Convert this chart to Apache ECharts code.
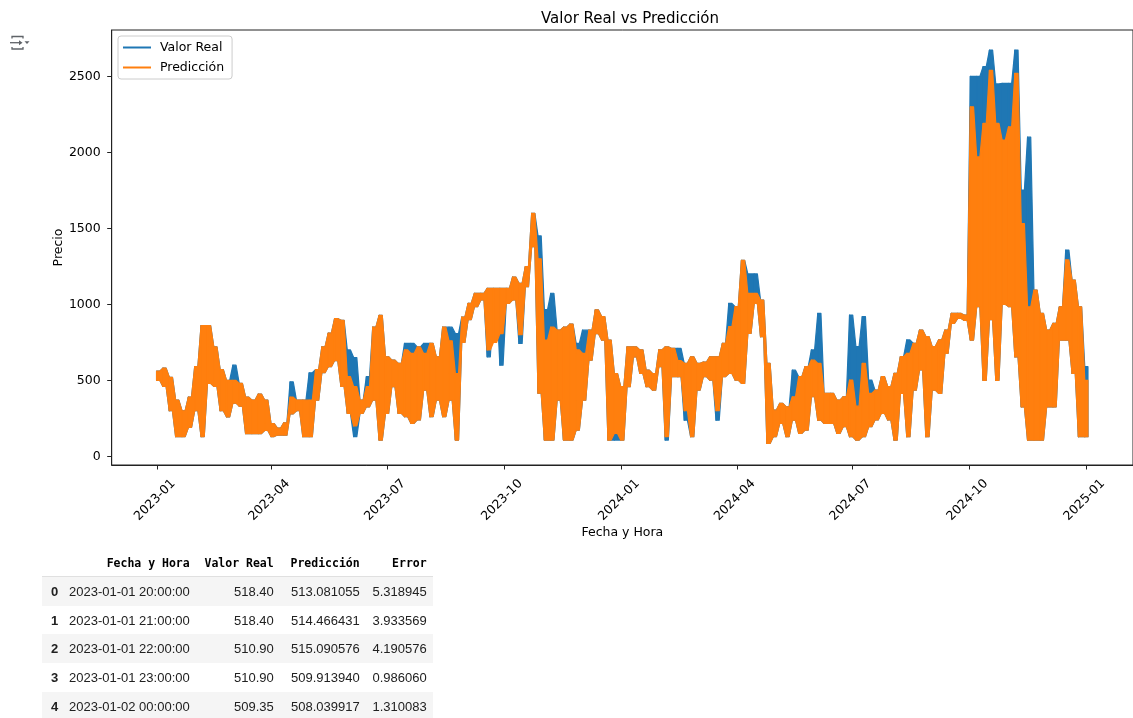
<!DOCTYPE html>
<html>
<head>
<meta charset="utf-8">
<script src="https://cdn.jsdelivr.net/npm/echarts@6/dist/echarts.min.js"></script>
<style>
  html, body { margin: 0; padding: 0; background: #fff; }
  #chart { position: absolute; left: 0; top: 0; width: 1133px; height: 718px; }
  #tbl { position: absolute; left: 42px; top: 549px; border-collapse: collapse; }
  #tbl th, #tbl td { height: 28.7px; padding: 0; white-space: nowrap; }
  #tbl thead th { font-family: "DejaVu Sans Mono", monospace; font-weight: bold; font-size: 11.5px; color: #000; text-align: right; height: 27px; border-bottom: 1px solid #e0e0e0; }
  #tbl td { font-family: "Liberation Sans", Arial, sans-serif; font-size: 13px; color: #212121; text-align: right; }
  #tbl tbody th { font-family: "Liberation Sans", Arial, sans-serif; font-size: 13px; font-weight: bold; color: #212121; text-align: left; }
  #tbl tbody tr:nth-child(odd) { background: #f5f5f5; }
  #tbl .c1 { width: 18px; padding-left: 9px; }
  #tbl .c2 { width: 120px; padding-right: 6px; }
  #tbl .c3 { width: 78px; padding-right: 6px; }
  #tbl .c4 { width: 80px; padding-right: 6px; }
  #tbl .c5 { width: 61px; padding-right: 6px; }
</style>
</head>
<body>
<div id="chart"></div>
<table id="tbl"></table>
<script>
// ---- data ----
const sampleStart = '2023-01-01T20:00:00Z';   // first timestamp
const sampleStepDays = 5;                      // spacing of the sampled envelope

// Valor Real: local high / low within each 5-day window
const realHi = [560,580,520,370,300,390,590,860,860,720,570,500,600,480,390,370,410,370,215,185,220,490,370,370,550,570,720,810,906,895,700,650,370,524,850,927,655,633,611,743,743,720,743,743,655,850,850,808,916,1007,1073,1073,1105,1105,1105,1105,1180,1138,1248,1599,1450,965,1073,830,850,870,743,830,830,963,920,765,545,458,720,720,700,567,545,700,720,710,710,612,655,612,620,655,655,743,1006,985,1290,1200,1200,1028,612,304,348,326,567,524,590,700,940,414,414,370,392,930,722,920,502,436,524,458,546,656,766,744,831,788,722,766,831,941,941,930,2500,2500,2564,2673,2450,2454,2454,2673,1752,2100,1094,940,831,875,984,1357,1160,984,590];
const realLo = [500,460,300,130,130,190,300,130,480,460,300,260,350,330,150,150,150,170,130,140,140,280,300,130,130,370,550,590,630,460,283,130,283,326,370,107,283,458,283,261,217,240,436,261,370,261,370,107,750,900,985,1029,655,1029,600,1007,1029,743,1116,1380,415,107,107,370,107,107,173,370,633,808,765,107,107,107,458,655,545,458,436,590,107,524,524,238,129,436,524,502,238,524,545,502,480,809,1006,787,85,129,216,129,238,151,173,392,238,216,217,151,195,129,107,129,195,239,283,239,107,414,129,436,568,129,436,414,678,875,908,895,765,985,500,900,500,1000,985,655,326,107,107,107,326,326,765,765,545,129,129];

// Predicción: local high / low within each 5-day window
const predHi = [560,580,520,370,300,390,590,860,860,720,570,500,500,480,390,370,410,370,215,185,220,390,370,370,370,570,720,810,906,895,524,458,370,458,850,927,655,633,611,700,677,720,677,743,655,850,760,545,916,1007,1073,1073,1105,1105,1105,1105,1180,1138,1248,1599,1300,765,850,830,850,870,700,677,830,963,920,765,545,458,720,720,700,567,545,700,720,710,630,612,655,612,620,655,655,743,853,985,1290,1072,1072,1028,612,304,348,326,392,524,590,633,612,414,414,370,392,502,330,612,414,436,524,458,546,656,678,744,831,788,722,766,831,941,941,930,2300,1970,2190,2540,2190,2081,2168,2520,1532,984,1094,940,831,875,984,1292,1160,984,500];
const predLo = [500,460,300,130,130,190,300,130,480,460,300,260,350,330,150,150,150,170,130,140,140,280,300,130,130,370,550,590,630,460,283,200,283,326,370,107,283,458,283,261,217,240,436,261,370,261,370,107,750,900,985,1029,700,750,808,1007,1029,800,1116,1380,415,107,107,370,107,107,173,370,633,808,765,107,151,107,458,655,545,458,436,590,130,524,524,300,129,436,524,502,300,524,545,502,480,809,1006,787,85,129,216,129,238,151,173,392,238,216,217,151,195,129,107,129,195,239,283,239,107,414,129,436,568,129,436,414,678,875,908,895,765,985,500,900,500,1000,985,655,326,107,107,107,326,326,765,765,545,129,129];

const seriesNames = ['Valor Real', 'Predicción'];
const seriesColors = ['#1f77b4', '#ff7f0e'];
const tickLabelsX = ['2023-01','2023-04','2023-07','2023-10','2024-01','2024-04','2024-07','2024-10','2025-01'];
const tickValuesY = [0, 500, 1000, 1500, 2000, 2500];

// table shown under the chart
const tableColumns = ['Fecha y Hora', 'Valor Real', 'Predicción', 'Error'];
const tableDates = ['2023-01-01 20:00:00','2023-01-01 21:00:00','2023-01-01 22:00:00','2023-01-01 23:00:00','2023-01-02 00:00:00'];
const tableReal = ['518.40','518.40','510.90','510.90','509.35'];
const tablePred = ['513.081055','514.466431','515.090576','509.913940','508.039917'];
const tableErr = ['5.318945','3.933569','4.190576','0.986060','1.310083'];

// ---- build ----
const DAY = 86400000;
const origin = Date.UTC(2023, 0, 1);
const startDay = (Date.parse(sampleStart) - origin) / DAY;
const half = sampleStepDays / 4;
// one item per window: [x, hi, lo, xNext, hiNext, loNext]
function bandData(hi, lo) {
  const out = [];
  for (let i = 0; i < hi.length; i++) {
    const x = startDay + i * sampleStepDays;
    if (i < hi.length - 1) out.push([x, hi[i], lo[i], x + sampleStepDays, hi[i + 1], lo[i + 1]]);
    else out.push([x, hi[i], lo[i], x + 2 * half, hi[i], lo[i]]);
  }
  return out;
}
function bandRender(color) {
  return function (params, api) {
    const x0 = api.value(0), h0 = api.value(1), l0 = api.value(2);
    const x1 = api.value(3), h1 = api.value(4), l1 = api.value(5);
    const pts = [
      api.coord([x0 - half, h0]), api.coord([x0 + half, h0]),
      api.coord([x1 - half, h1]), api.coord([x1 - half, l1]),
      api.coord([x0 + half, l0]), api.coord([x0 - half, l0])
    ];
    return { type: 'polygon', shape: { points: pts },
             style: { fill: color, stroke: color, lineWidth: 1.2, lineJoin: 'round' } };
  };
}
const tickDaysX = tickLabelsX.map(s => {
  const [y, m] = s.split('-').map(Number);
  return (Date.UTC(y, m - 1, 1) - origin) / DAY;
});

const FONT = 'DejaVu Sans';
const chart = echarts.init(document.getElementById('chart'), null, { renderer: 'canvas' });
chart.setOption({
  animation: false,
  backgroundColor: '#fff',
  textStyle: { fontFamily: FONT },
  title: {
    text: 'Valor Real vs Predicción',
    left: 625, top: 7, textAlign: 'center',
    textStyle: { fontFamily: FONT, fontSize: 15, fontWeight: 'normal', color: '#000' }
  },
  legend: {
    data: seriesNames,
    orient: 'vertical',
    left: 118, top: 36,
    icon: 'rect', itemWidth: 28, itemHeight: 2, itemGap: 7,
    padding: [5, 8, 5, 5],
    backgroundColor: 'rgba(255,255,255,0.8)',
    borderColor: '#cccccc', borderWidth: 1, borderRadius: 3,
    textStyle: { fontFamily: FONT, fontSize: 12.5, color: '#000', padding: [0, 0, 0, 4] }
  },
  grid: {
    left: 111.7, top: 30, right: -6, bottom: 253,
    show: true, borderColor: '#222', borderWidth: 1, backgroundColor: 'transparent'
  },
  xAxis: {
    type: 'value', min: -35.7, max: 767.5,
    name: 'Fecha y Hora', nameLocation: 'middle', nameGap: 61, nameMoveOverlap: false,
    nameTextStyle: { fontFamily: FONT, fontSize: 12.5, color: '#000' },
    axisLine: { show: true, onZero: false, lineStyle: { color: '#222', width: 1 } },
    axisTick: { show: true, length: 4.5, customValues: tickDaysX, lineStyle: { color: '#222' } },
    axisLabel: {
      customValues: tickDaysX, rotate: 45, margin: 33, align: 'center', verticalAlign: 'middle',
      padding: [0, 6, 0, 0],
      fontFamily: FONT, fontSize: 12.5, color: '#000',
      formatter: v => {
        let best = 0;
        for (let i = 1; i < tickDaysX.length; i++) if (Math.abs(tickDaysX[i] - v) < Math.abs(tickDaysX[best] - v)) best = i;
        return tickLabelsX[best];
      }
    },
    splitLine: { show: false }
  },
  yAxis: {
    type: 'value', min: -57, max: 2805,
    name: 'Precio', nameLocation: 'middle', nameGap: 46, nameMoveOverlap: false,
    nameTextStyle: { fontFamily: FONT, fontSize: 12.5, color: '#000' },
    axisLine: { show: true, onZero: false, lineStyle: { color: '#222', width: 1 } },
    axisTick: { show: true, length: 4.5, customValues: tickValuesY, lineStyle: { color: '#222' } },
    axisLabel: { customValues: tickValuesY, margin: 11, fontFamily: FONT, fontSize: 12.5, color: '#000',
                 formatter: v => String(v) },
    splitLine: { show: false }
  },
  series: [
    {
      name: seriesNames[0], type: 'custom', data: bandData(realHi, realLo),
      renderItem: bandRender(seriesColors[0]),
      encode: { x: [0, 3], y: [1, 2, 4, 5] },
      color: seriesColors[0], itemStyle: { color: seriesColors[0] }
    },
    {
      name: seriesNames[1], type: 'custom', data: bandData(predHi, predLo),
      renderItem: bandRender(seriesColors[1]),
      encode: { x: [0, 3], y: [1, 2, 4, 5] },
      color: seriesColors[1], itemStyle: { color: seriesColors[1] }
    }
  ],
  graphic: [
    { type: 'polyline', shape: { points: [[12, 38.5], [12, 36.5], [23, 36.5], [23, 38.5]] }, style: { stroke: '#5f6368', lineWidth: 1.3, fill: null } },
    { type: 'polyline', shape: { points: [[10, 42.7], [21, 42.7]] }, style: { stroke: '#5f6368', lineWidth: 1.3, fill: null } },
    { type: 'polygon', shape: { points: [[19, 40.2], [22.5, 42.7], [19, 45.2]] }, style: { fill: '#5f6368' } },
    { type: 'polygon', shape: { points: [[24.5, 41.2], [29.5, 41.2], [27, 44]] }, style: { fill: '#5f6368' } },
    { type: 'polyline', shape: { points: [[12, 47], [12, 49], [23, 49], [23, 47]] }, style: { stroke: '#5f6368', lineWidth: 1.3, fill: null } }
  ]
});

// table
const tbl = document.getElementById('tbl');
let html = '<thead><tr><th class="c1"></th>' + tableColumns.map((c, i) => '<th class="c' + (i + 2) + '">' + c + '</th>').join('') + '</tr></thead><tbody>';
for (let i = 0; i < tableDates.length; i++) {
  html += '<tr><th class="c1">' + i + '</th><td class="c2">' + tableDates[i] + '</td><td class="c3">' + tableReal[i] +
          '</td><td class="c4">' + tablePred[i] + '</td><td class="c5">' + tableErr[i] + '</td></tr>';
}
html += '</tbody>';
tbl.innerHTML = html;
</script>
</body>
</html>
